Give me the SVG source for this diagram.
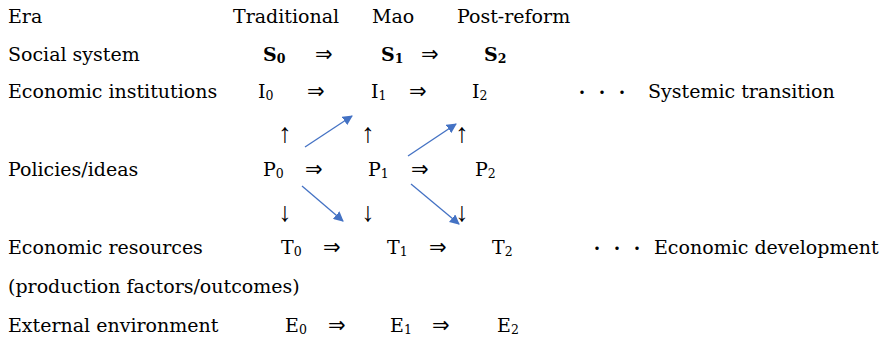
<svg xmlns="http://www.w3.org/2000/svg" width="880" height="338" viewBox="0 0 880 338">
<defs>
<style>
text{font-family:"DejaVu Serif","Liberation Serif",serif;font-size:19px;fill:#000}
.b{font-weight:bold}
.sub{font-size:12.5px}
.arr{font-family:"DejaVu Sans","Liberation Sans",sans-serif;font-size:21px}
.va{font-family:"Liberation Serif",serif;font-size:27px;text-anchor:middle}
.dots{font-family:"Noto Sans CJK JP","Noto Sans",sans-serif;font-size:16px;letter-spacing:4px}
.blue{stroke:#4472C4;stroke-width:1.3;fill:none}
</style>
<marker id="ah" viewBox="0 0 10 10" refX="9" refY="5" markerWidth="10" markerHeight="10" markerUnits="userSpaceOnUse" orient="auto"><path d="M0,0 L10,5 L0,10 z" fill="#4472C4"/></marker>
</defs>
<rect width="880" height="338" fill="#fff"/>
<g id="labels">
<text x="8" y="23">Era</text>
<text x="8" y="61">Social system</text>
<text x="8" y="98">Economic institutions</text>
<text x="8" y="176">Policies/ideas</text>
<text x="8" y="254">Economic resources</text>
<text x="8" y="293">(production factors/outcomes)</text>
<text x="8" y="332">External environment</text>
</g>
<g id="eras">
<text x="233" y="23">Traditional</text>
<text x="372" y="23">Mao</text>
<text x="457" y="23">Post-reform</text>
</g>
<g id="S0"><text class="b" x="263" y="61">S<tspan class="sub" dy="2">0</tspan></text></g>
<g id="S1"><text class="b" x="381" y="61">S<tspan class="sub" dy="2">1</tspan></text></g>
<g id="S2"><text class="b" x="484" y="61">S<tspan class="sub" dy="2">2</tspan></text></g>
<g id="I0"><text x="258" y="98">I<tspan class="sub" dy="2">0</tspan></text></g>
<g id="I1"><text x="371" y="98">I<tspan class="sub" dy="2">1</tspan></text></g>
<g id="I2"><text x="472" y="98">I<tspan class="sub" dy="2">2</tspan></text></g>
<g id="P0"><text x="263" y="176">P<tspan class="sub" dy="2">0</tspan></text></g>
<g id="P1"><text x="368" y="176">P<tspan class="sub" dy="2">1</tspan></text></g>
<g id="P2"><text x="475" y="176">P<tspan class="sub" dy="2">2</tspan></text></g>
<g id="T0"><text x="281" y="254">T<tspan class="sub" dy="2">0</tspan></text></g>
<g id="T1"><text x="387" y="254">T<tspan class="sub" dy="2">1</tspan></text></g>
<g id="T2"><text x="492" y="254">T<tspan class="sub" dy="2">2</tspan></text></g>
<g id="E0"><text x="285" y="332">E<tspan class="sub" dy="2">0</tspan></text></g>
<g id="E1"><text x="390" y="332">E<tspan class="sub" dy="2">1</tspan></text></g>
<g id="E2"><text x="497" y="332">E<tspan class="sub" dy="2">2</tspan></text></g>
<g id="systemic"><text class="dots" x="574" y="98">・・・</text><text x="648" y="98">Systemic transition</text></g>
<g id="development"><text class="dots" x="589" y="254">・・・</text><text x="654" y="254">Economic development</text></g>
<g id="connectors">
<text class="arr" x="315" y="61">⇒</text><text class="arr" x="421" y="61">⇒</text>
<text class="arr" x="307" y="98">⇒</text><text class="arr" x="409" y="98">⇒</text>
<text class="arr" x="305" y="176">⇒</text><text class="arr" x="411" y="176">⇒</text>
<text class="arr" x="323" y="254">⇒</text><text class="arr" x="429" y="254">⇒</text>
<text class="arr" x="328" y="332">⇒</text><text class="arr" x="432" y="332">⇒</text>
<text class="va" x="285" y="142">↑</text><text class="va" x="368" y="142">↑</text><text class="va" x="462" y="142">↑</text>
<text class="va" x="285" y="221">↓</text><text class="va" x="368" y="221">↓</text><text class="va" x="462" y="221">↓</text>
<line class="blue" x1="305" y1="147" x2="352" y2="116" marker-end="url(#ah)"/>
<line class="blue" x1="408" y1="156" x2="456" y2="124" marker-end="url(#ah)"/>
<line class="blue" x1="302" y1="186" x2="343" y2="221" marker-end="url(#ah)"/>
<line class="blue" x1="411" y1="184" x2="459" y2="224" marker-end="url(#ah)"/>
</g>
</svg>
